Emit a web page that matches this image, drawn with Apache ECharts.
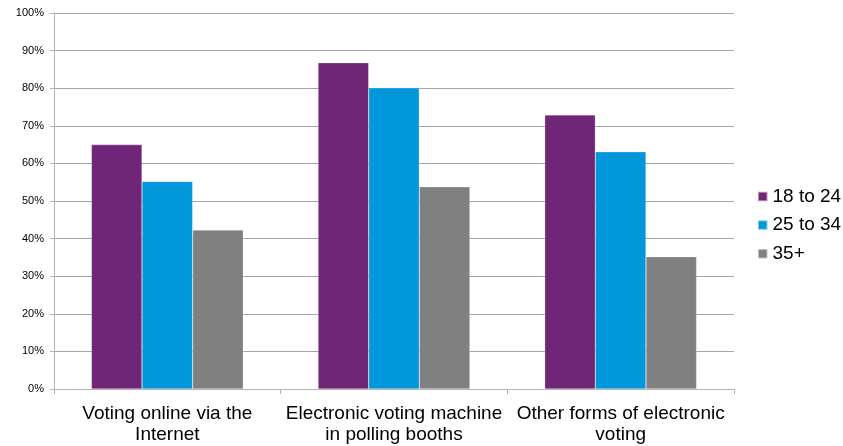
<!DOCTYPE html>
<html>
<head>
<meta charset="utf-8">
<script src="https://cdn.jsdelivr.net/npm/echarts@6/dist/echarts.min.js"></script>
<style>html,body{margin:0;padding:0;background:#fff}#c{width:843px;height:446px}</style>
</head>
<body>
<div id="c"></div>
<script>
var categories = ['Voting online via the\nInternet', 'Electronic voting machine\nin polling booths', 'Other forms of electronic\nvoting'];
var seriesNames = ['18 to 24', '25 to 34', '35+'];
var age18to24 = [65.0, 86.8, 72.9];
var age25to34 = [55.2, 80.1, 63.1];
var age35plus = [42.3, 53.8, 35.2];
var colors = ['#702678', '#0098DA', '#808080'];
var font = '"Liberation Sans", Arial, Helvetica, sans-serif';

var chart = echarts.init(document.getElementById('c'), null, {renderer: 'canvas'});
var dataSets = [age18to24, age25to34, age35plus];
chart.setOption({
  animation: false,
  grid: {left: 54, right: 109, top: 13, bottom: 57, containLabel: false},
  legend: {
    orient: 'vertical', left: 757, top: 186, padding: 0,
    itemWidth: 9.5, itemHeight: 9.5, itemGap: 7.6,
    icon: 'rect',
    textStyle: {fontFamily: font, fontSize: 19, color: '#000', lineHeight: 21, padding: [0,0,0,0]},
    data: seriesNames
  },
  xAxis: {
    type: 'category', data: categories,
    axisLine: {show: true, lineStyle: {color: '#b3b3b3', width: 1}},
    axisTick: {show: true, length: 5, alignWithLabel: false, lineStyle: {color: '#b3b3b3'}},
    axisLabel: {fontFamily: font, fontSize: 19, color: '#000', lineHeight: 21, margin: 14, interval: 0}
  },
  yAxis: {
    type: 'value', min: 0, max: 100, interval: 10,
    axisLine: {show: true, lineStyle: {color: '#b3b3b3'}},
    axisTick: {show: true, length: 4, lineStyle: {color: '#b3b3b3'}},
    splitLine: {show: true, lineStyle: {color: '#a6a6a6', width: 1}},
    axisLabel: {fontFamily: font, fontSize: 11, color: '#000', margin: 10, formatter: '{value}%'}
  },
  series: dataSets.map(function(d, i){
    return {
      name: seriesNames[i], type: 'bar', data: d,
      barGap: '0%', barCategoryGap: '33%',
      itemStyle: {color: colors[i], borderColor: 'rgba(255,255,255,0.5)', borderWidth: 0.5}
    };
  })
});
</script>
</body>
</html>
